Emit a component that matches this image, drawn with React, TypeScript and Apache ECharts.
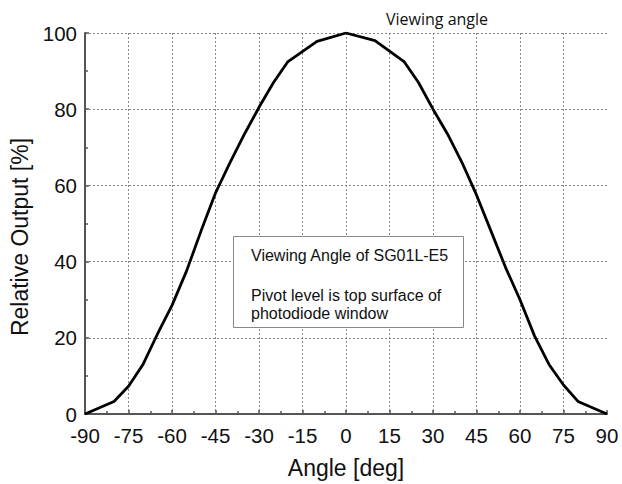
import React, { useEffect, useRef } from "react";
import * as echarts from "echarts";

const angles = [-90, -80, -75, -70, -65, -60, -55, -50, -45, -40, -35, -30, -25, -20, -10, 0, 10, 20, 25, 30, 35, 40, 45, 50, 55, 60, 65, 70, 75, 80, 90];
const outputs = [0, 3.3, 7.3, 13, 21, 28.5, 37.5, 48, 58, 66, 73.5, 80.5, 87, 92.5, 97.8, 100, 98, 92.5, 87, 80, 73.5, 66, 57.5, 48, 38.5, 30, 20.5, 13, 7.6, 3.3, 0];
const xTicks = [-90, 90, 15];
const yTicks = [0, 100, 20];
const title = "Viewing angle";
const xName = "Angle [deg]";
const yName = "Relative Output [%]";
const noteLines = ["Viewing Angle of SG01L-E5", "Pivot level is top surface of", "photodiode window"];

export default function App() {
  const ref = useRef<HTMLDivElement>(null);
  useEffect(() => {
    if (!ref.current) return;
    const chart = echarts.init(ref.current, null, { renderer: "svg" });
    const font = "'Liberation Sans', Arial, sans-serif";
    const data = angles.map((a, i) => [a, outputs[i]]);
    chart.setOption({
      animation: false,
      backgroundColor: "#ffffff",
      grid: { left: 85, right: 15, top: 33, bottom: 70 },
      xAxis: {
        type: "value",
        min: xTicks[0],
        max: xTicks[1],
        interval: xTicks[2],
        name: xName,
        nameLocation: "middle",
        nameGap: 42,
        nameTextStyle: { fontFamily: font, fontSize: 23, color: "#111" },
        axisLine: { show: true, onZero: false, lineStyle: { color: "#555", width: 2 } },
        axisTick: { show: true, inside: true, length: 4, lineStyle: { color: "#555", width: 1.5 } },
        minorTick: { show: true, splitNumber: 2, length: 3, lineStyle: { color: "#555", width: 1.5 } },
        axisLabel: { fontFamily: font, fontSize: 20.5, lineHeight: 18, color: "#111", margin: 12 },
        splitLine: { show: true, showMaxLine: false, lineStyle: { color: "#888", type: [2, 2], width: 1 } },
      },
      yAxis: {
        type: "value",
        min: yTicks[0],
        max: yTicks[1],
        interval: yTicks[2],
        axisLine: { show: true, onZero: false, lineStyle: { color: "#555", width: 2 } },
        axisTick: { show: true, inside: true, length: 4, lineStyle: { color: "#555", width: 1.5 } },
        minorTick: { show: true, splitNumber: 2, length: 3, lineStyle: { color: "#555", width: 1.5 } },
        axisLabel: { fontFamily: font, fontSize: 20.5, lineHeight: 18, color: "#111", margin: 8 },
        splitLine: { show: true, lineStyle: { color: "#888", type: [2, 2], width: 1 } },
      },
      series: [
        {
          type: "line",
          data,
          showSymbol: false,
          lineStyle: { color: "#000", width: 2.8 },
          z: 3,
        },
      ],
      graphic: [
        {
          type: "text",
          x: 20,
          y: 237,
          rotation: Math.PI / 2,
          style: {
            text: yName,
            fontFamily: font,
            fontSize: 23,
            fill: "#111",
            textAlign: "center",
            textVerticalAlign: "middle",
          },
        },
        {
          type: "text",
          x: 437,
          y: 19,
          style: {
            text: title,
            fontFamily: "'Open Sans', sans-serif",
            fontSize: 16,
            fill: "#111",
            textAlign: "center",
            textVerticalAlign: "middle",
          },
        },
        {
          type: "rect",
          shape: { x: 233.5, y: 236.5, width: 230, height: 91 },
          style: { fill: "#fff", stroke: "#888", lineWidth: 1 },
          z: 10,
        },
        {
          type: "text",
          x: 251,
          y: 255,
          z: 11,
          style: { text: noteLines[0], fontFamily: font, fontSize: 16, fill: "#111", textVerticalAlign: "middle" },
        },
        {
          type: "text",
          x: 251,
          y: 295,
          z: 11,
          style: { text: noteLines[1], fontFamily: font, fontSize: 16, fill: "#111", textVerticalAlign: "middle" },
        },
        {
          type: "text",
          x: 251,
          y: 313,
          z: 11,
          style: { text: noteLines[2], fontFamily: font, fontSize: 16, fill: "#111", textVerticalAlign: "middle" },
        },
      ],
    });
    return () => chart.dispose();
  }, []);
  return <div ref={ref} style={{ width: 622, height: 484, position: "absolute", left: 0, top: 0 }} />;
}
